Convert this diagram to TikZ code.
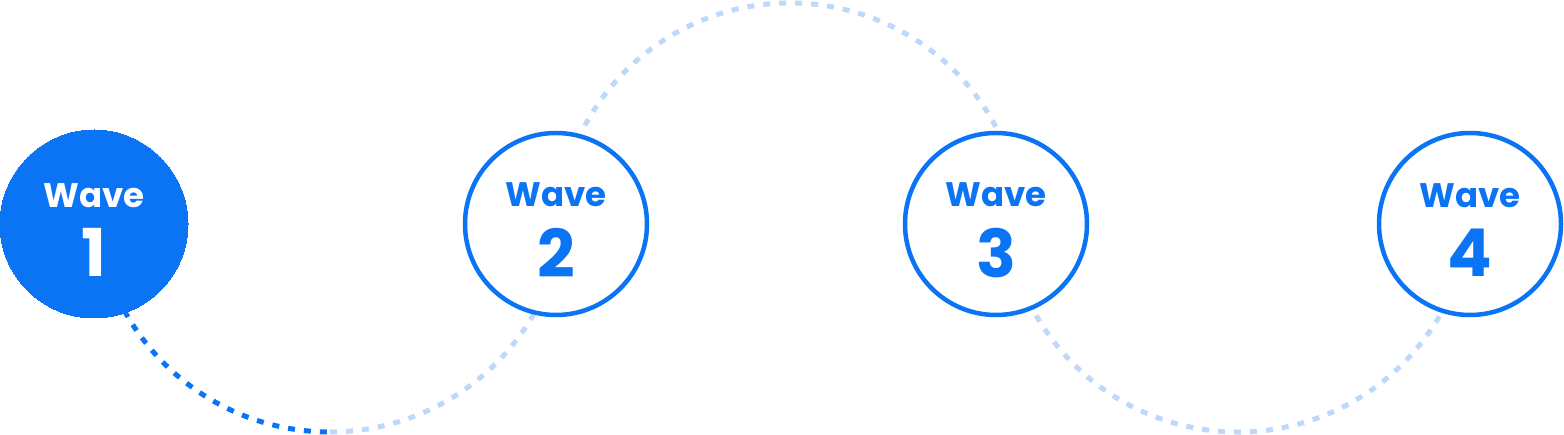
\documentclass[tikz,border=0pt]{standalone}
\usepackage{fontspec}
\setmainfont{Poppins}
\definecolor{wblue}{HTML}{0A74F5}
\definecolor{lblue}{HTML}{BDD8FB}
\begin{document}
\begin{tikzpicture}[x=1pt,y=1pt,
 dot/.style={line width=5pt,dash pattern=on 7pt off 9pt},
 wave/.style={circle,minimum size=182pt,line width=4.5pt,draw=wblue,fill=white,text=wblue,inner sep=0pt},
 wt/.style={text=wblue,align=center,inner sep=0pt,font=\bfseries}]
\useasboundingbox (0,0) rectangle (1564,435);
\draw[dot,wblue] (330,238) ++(209:235) arc (209:270:235);
\draw[dot,lblue] (330,238) ++(270:235) arc (270:330:235);
\draw[dot,lblue] (790,199) ++(28:233) arc (28:152:233);
\draw[dot,lblue] (1238,236) ++(210:233) arc (210:330:233);
\newcommand\wtxt[1]{{\fontsize{34}{34}\selectfont Wave}\\[20pt]{\fontsize{66}{50}\selectfont #1}}
\node[wave,fill=wblue,draw=wblue,minimum size=188pt,line width=0pt] (w1) at (94,211) {};
\node[wave] (w2) at (556,211) {};
\node[wave] (w3) at (996,211) {};
\node[wave] (w4) at (1470,211) {};
\node[wt,text=white] (t1) at ([yshift=-6pt]w1.center) {\wtxt{1}};
\node[wt] (t2) at ([yshift=-6pt]w2.center) {\wtxt{2}};
\node[wt] (t3) at ([yshift=-6pt]w3.center) {\wtxt{3}};
\node[wt] (t4) at ([yshift=-6pt]w4.center) {\wtxt{4}};
\end{tikzpicture}
\end{document}
